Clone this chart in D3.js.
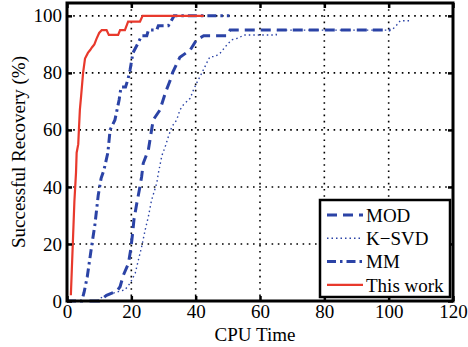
<!DOCTYPE html>
<html>
<head>
<meta charset="utf-8">
<script src="https://cdn.jsdelivr.net/npm/d3@7"></script>
<style>
  body { margin: 0; background: #fff; }
  svg { display: block; font-family: "Liberation Serif", "DejaVu Serif", serif; }
</style>
</head>
<body>
<svg id="chart" width="468" height="347"></svg>
<script>
// values: [CPU time, successful recovery %]
const modData = [
  [7, 0], [10, 0], [12.3, 2], [15.5, 3.5], [16.5, 5], [17.5, 9], [19.1, 13.2],
  [19.8, 18], [20.4, 23.7], [20.8, 28.4], [21.7, 34.3], [22.5, 39], [23.2, 43.6],
  [23.7, 48.3], [25.3, 53], [26.3, 60], [26.8, 63.5], [28.9, 67], [30.7, 73.4],
  [32.3, 78], [32.8, 80], [35.1, 85.5], [38.3, 88], [40.3, 91.6], [42.5, 93],
  [49.7, 93], [50.7, 95], [100.5, 95]
]
const ksvdData = [
  [9.5, 0], [10.3, 1], [12.3, 2], [15, 3], [18, 3.9], [19.6, 6.2], [21.2, 9.7],
  [22.2, 14.4], [23.2, 19], [24.3, 24.9], [25.3, 29.6], [26.3, 35.4], [27.9, 41.3],
  [28.4, 44.8], [29.5, 51], [30.5, 54], [31.5, 57.6], [32.6, 61.1], [34.1, 63.5],
  [35.1, 67], [36.2, 68.8], [38.3, 71.1], [39.3, 74], [40.3, 76.4], [41.9, 79.9],
  [42.9, 82.2], [43.9, 84.6], [44.5, 85.7], [46, 85.7], [47.6, 86.9], [49.7, 89.8],
  [51.2, 91.6], [53.3, 92.2], [55, 93.3], [65, 93.3], [65.5, 95], [101, 95],
  [102.5, 96.8], [103.6, 98.3], [106.7, 98.3]
]
const mmData = [
  [0, 0], [4.6, 0], [5.3, 3], [6.3, 8.5], [7.5, 18], [8.7, 27], [9.7, 37],
  [10.6, 43], [11.5, 46], [12.7, 52], [13.4, 60], [14.9, 63.5], [16.2, 70.5],
  [16.8, 75], [18.2, 75], [19, 78], [19.6, 81], [20.5, 87], [21.9, 90],
  [23.2, 93], [24.8, 93], [25.3, 95], [27.9, 95], [28.4, 96.5], [31.5, 96.5],
  [32.6, 98.6], [33.3, 100], [50.5, 100]
]
const oursData = [
  [1.2, 2], [1.8, 20], [2.3, 35], [2.8, 45], [3.0, 52], [3.5, 55], [3.7, 60],
  [4.0, 67], [4.4, 72], [5.0, 80], [5.6, 85], [6.5, 87], [7.2, 88], [7.8, 89],
  [8.5, 90], [9.2, 92], [10.0, 94], [10.8, 95], [12.3, 95], [13.0, 93.3],
  [15.9, 93.3], [16.5, 95], [18, 95], [19, 98], [22.7, 98], [23.5, 100], [42.5, 100]
]
const seriesNames = ['MOD', 'K\u2212SVD', 'MM', 'This work']
const xTicks = [0, 20, 40, 60, 80, 100, 120]
const yTicks = [0, 20, 40, 60, 80, 100]

const blue = '#2b43a6'
const red = '#e8392c'
const styles = [
  { data: modData, color: blue, width: 3, dash: '10,6' },
  { data: ksvdData, color: blue, width: 1.4, dash: '1.5,3' },
  { data: mmData, color: blue, width: 3, dash: '9,4,2.5,4' },
  { data: oursData, color: red, width: 2.2, dash: null }
]

const svg = d3.select('#chart')
const plotLeft = 67, plotRight = 453, plotTop = 3, plotBottom = 301

const x = d3.scaleLinear().domain([0, 120]).range([plotLeft, plotRight])
const y = d3.scaleLinear().domain([0, 104.5]).range([plotBottom, plotTop])

// dotted grid
const grid = svg.append('g')
grid.selectAll('line.gx')
  .data(xTicks.slice(1, -1))
  .enter().append('line')
  .attr('x1', d => x(d)).attr('x2', d => x(d))
  .attr('y1', plotTop).attr('y2', plotBottom)
grid.selectAll('line.gy')
  .data(yTicks.slice(1))
  .enter().append('line')
  .attr('x1', plotLeft).attr('x2', plotRight)
  .attr('y1', d => y(d)).attr('y2', d => y(d))
grid.selectAll('line')
  .attr('stroke', '#000')
  .attr('stroke-width', 1.6)
  .attr('stroke-dasharray', '1.6,4.6')

// curves
const line = d3.line().x(d => x(d[0])).y(d => y(d[1]))
const curves = svg.append('g')
styles.forEach(s => {
  curves.append('path')
    .attr('d', line(s.data))
    .attr('fill', 'none')
    .attr('stroke', s.color)
    .attr('stroke-width', s.width)
    .attr('stroke-dasharray', s.dash)
})

// axes, ticks point inward
const fontSize = '19px'
svg.append('g')
  .attr('transform', `translate(0,${plotBottom})`)
  .call(d3.axisBottom(x).tickValues(xTicks).tickSize(-5).tickPadding(3))
svg.append('g')
  .attr('transform', `translate(${plotLeft},0)`)
  .call(d3.axisLeft(y).tickValues(yTicks).tickSize(-5).tickPadding(5))
svg.append('g')
  .attr('transform', `translate(0,${plotTop})`)
  .call(d3.axisTop(x).tickValues(xTicks).tickSize(-5).tickFormat(''))
svg.append('g')
  .attr('transform', `translate(${plotRight},0)`)
  .call(d3.axisRight(y).tickValues(yTicks).tickSize(-5).tickFormat(''))

svg.selectAll('.domain').remove()
svg.selectAll('.tick line').attr('stroke', '#000').attr('stroke-width', 2.5)
svg.selectAll('.tick text')
  .attr('fill', '#000')
  .style('font-family', '"Liberation Serif", serif')
  .style('font-size', fontSize)

// frame
svg.append('rect')
  .attr('x', plotLeft).attr('y', plotTop)
  .attr('width', plotRight - plotLeft).attr('height', plotBottom - plotTop)
  .attr('fill', 'none')
  .attr('stroke', '#000')
  .attr('stroke-width', 3)

// axis titles
svg.append('text')
  .attr('x', (plotLeft + plotRight) / 2 - 5)
  .attr('y', 341)
  .attr('text-anchor', 'middle')
  .style('font-size', fontSize)
  .text('CPU Time')
svg.append('text')
  .attr('transform', 'translate(25,152) rotate(-90)')
  .attr('text-anchor', 'middle')
  .style('font-size', fontSize)
  .text('Successful Recovery (%)')

// legend
const legend = svg.append('g').attr('transform', 'translate(320,200)')
legend.append('rect')
  .attr('width', 130).attr('height', 97)
  .attr('fill', '#fff')
  .attr('stroke', '#000')
  .attr('stroke-width', 2.5)
const items = legend.selectAll('g.item')
  .data(styles)
  .enter().append('g')
  .attr('transform', (d, i) => `translate(0,${15 + i * 23.3})`)
items.append('line')
  .attr('x1', 7).attr('x2', 43)
  .attr('stroke', d => d.color)
  .attr('stroke-width', d => d.width)
  .attr('stroke-dasharray', d => d.dash)
items.append('text')
  .attr('x', 46)
  .attr('dy', '0.35em')
  .style('font-size', fontSize)
  .text((d, i) => seriesNames[i])
</script>
</body>
</html>
